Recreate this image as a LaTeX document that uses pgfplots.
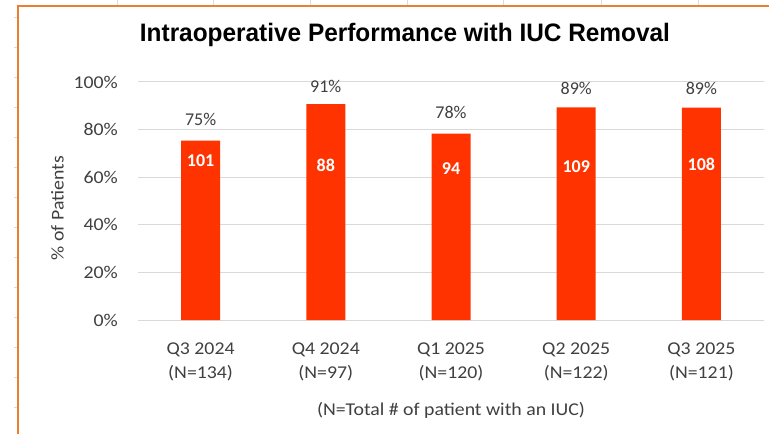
\documentclass[border=0pt]{standalone}
\usepackage{fontspec}
\setmainfont{Carlito}[FakeStretch=1.1]
\newfontfamily\plainfont{Carlito}
\newfontfamily\titlefont{Liberation Sans}
\usepackage{pgfplots}
\usepackage{pgfplotstable}
\pgfplotsset{compat=1.18}
\definecolor{barred}{RGB}{255,51,0}
\definecolor{frameorange}{RGB}{237,125,49}
\definecolor{gridgray}{RGB}{217,217,217}
\definecolor{txtgray}{RGB}{64,64,64}
\definecolor{sheetgray}{RGB}{220,220,220}
\pgfplotstableread{
x pct cnt ptxt plab pin
0 75.37 101 75 84.3 66.8
1 90.72 88 91 98.3 64.8
2 78.33 94 78 87.3 63.7
3 89.34 109 89 97.4 64.4
4 89.26 108 89 97.4 65.4
}\data
\begin{document}
\begin{tikzpicture}
\useasboundingbox (0pt,0pt) rectangle (769pt,434pt);
\fill[white] (0pt,0pt) rectangle (769pt,434pt);
\foreach \xx in {117,213,310,407,503,601,698} \draw[sheetgray, line width=0.8pt] (\xx pt,428pt) -- (\xx pt,434pt);
\foreach \yy in {17,47,...,409} \draw[sheetgray, line width=0.8pt] (14pt,434pt-\yy pt) -- (18pt,434pt-\yy pt);
\draw[frameorange, line width=2pt] (18.3pt,0pt) -- (18.3pt,428pt) -- (769pt,428pt);
\begin{axis}[
  at={(138pt,114pt)}, anchor=south west,
  scale only axis, width=626pt, height=238pt,
  xmin=-0.5, xmax=4.5, ymin=0, ymax=100,
  clip=false,
  axis line style={draw=none},
  major tick length=0pt, tick style={draw=none},
  ymajorgrids, grid style={gridgray, line width=1pt},
  ytick={0,20,40,60,80,100},
  yticklabels={0\%,20\%,40\%,60\%,80\%,100\%},
  yticklabel style={font=\fontsize{18}{22}\selectfont, text=txtgray, anchor=east, inner sep=0pt, xshift=-20pt},
  xtick={0,1,2,3,4},
  xticklabels={{Q3 2024\\(N=134)},{Q4 2024\\(N=97)},{Q1 2025\\(N=120)},{Q2 2025\\(N=122)},{Q3 2025\\(N=121)}},
  xticklabel style={font=\fontsize{18}{23.5}\selectfont, text=txtgray, align=center, anchor=north, inner sep=0pt, yshift=-23pt},
  title={\resizebox{530pt}{18.3pt}{\titlefont\bfseries Intraoperative Performance with IUC Removal}},
  title style={at={(axis description cs:0.4265,1.1429)}, anchor=base, inner sep=0pt},
  xlabel={(N=Total \# of patient with an IUC)},
  xlabel style={at={(axis description cs:0.5,-0.3992)}, anchor=base, inner sep=0pt, font=\fontsize{18}{22}\selectfont, text=txtgray},
  ylabel={\% of Patients},
  ylabel style={at={(axis description cs:-0.1286,0.4706)}, anchor=center, inner sep=0pt, font=\fontsize{18}{22}\selectfont, text=txtgray},
]
\addplot[ybar, bar width=39pt, fill=barred, draw=none] table[x=x, y=pct]{\data};
\addplot[draw=none, mark=none,
  point meta=explicit symbolic,
  nodes near coords={\pgfplotspointmeta\%}, nodes near coords align={center},
  nodes near coords style={anchor=center, inner sep=0pt, font=\plainfont\fontsize{18}{22}\selectfont, text=txtgray}]
  table[x=x, y=plab, meta=ptxt]{\data};
\addplot[draw=none, mark=none,
  point meta=explicit symbolic,
  nodes near coords, nodes near coords align={center},
  nodes near coords style={anchor=center, inner sep=0pt, font=\plainfont\fontsize{18}{22}\selectfont\bfseries, text=white}]
  table[x=x, y=pin, meta=cnt]{\data};
\end{axis}
\end{tikzpicture}
\end{document}
